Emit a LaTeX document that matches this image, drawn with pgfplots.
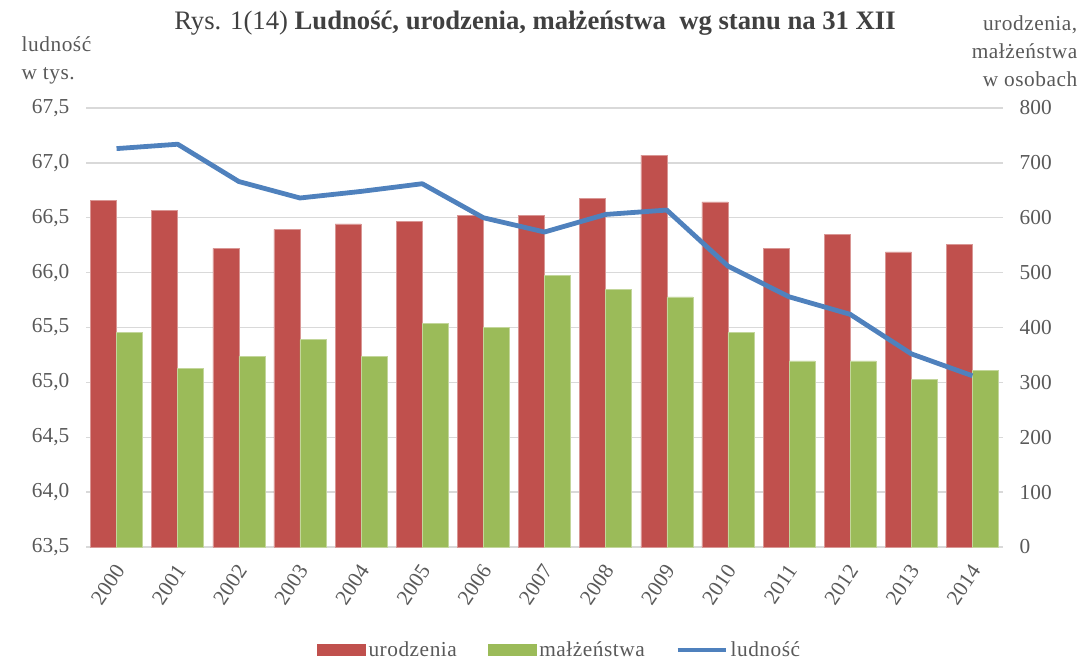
\documentclass[border=0pt]{standalone}
\usepackage{pgfplots}
\pgfplotsset{compat=1.18}
\usepackage{fontspec}
\setmainfont{Liberation Serif}
\newfontfamily\spacedfont[LetterSpace=2.5]{Liberation Serif}
\definecolor{barred}{HTML}{C0504D}
\definecolor{bargreen}{HTML}{9BBB59}
\definecolor{lineblue}{HTML}{4F81BD}
\definecolor{gridgray}{HTML}{D9D9D9}
\definecolor{txtgray}{HTML}{595959}
\definecolor{titlegray}{HTML}{404040}
\newcommand{\tfont}{\fontsize{16}{19}\selectfont}
\begin{document}
\begin{tikzpicture}
\begin{axis}[
  at={(0,0)}, anchor=south west,
  scale only axis, width=687.75pt, height=329.25pt,
  xmin=-0.5, xmax=14.5, ymin=0, ymax=800,
  axis y line*=right, axis x line*=bottom,
  axis line style={draw=none},
  ytick={0,100,...,800},
  ymajorgrids, grid style={gridgray, line width=1.1pt},
  major tick length=0pt,
  xtick={0,...,14},
  xticklabels={2000,2001,2002,2003,2004,2005,2006,2007,2008,2009,2010,2011,2012,2013,2014},
  /pgf/number format/assume math mode=true,
  tick label style={font=\tfont, text=txtgray},
  yticklabel style={anchor=west, xshift=9pt},
  xticklabel style={xshift=3pt, yshift=-14pt, rotate=56, anchor=east, inner sep=1pt},
  ybar=0pt, bar width=19.5pt,
  clip=false,
]
\addplot[fill=barred, draw=barred!60!white, line width=0.4pt] coordinates {(0,632) (1,613) (2,544) (3,579) (4,589) (5,593) (6,605) (7,605) (8,635) (9,714) (10,629) (11,544) (12,570) (13,538) (14,551)};
\addplot[fill=bargreen, draw=bargreen!60!white, line width=0.4pt] coordinates {(0,391) (1,326) (2,348) (3,378) (4,348) (5,407) (6,400) (7,495) (8,469) (9,456) (10,391) (11,339) (12,339) (13,306) (14,322)};
\end{axis}
\begin{axis}[
  at={(0,0)}, anchor=south west,
  scale only axis, width=687.75pt, height=329.25pt,
  xmin=-0.5, xmax=14.5, ymin=63.5, ymax=67.5,
  axis y line*=left, axis x line*=bottom,
  axis line style={draw=none},
  ytick={63.5,64,...,67.5},
  xtick=\empty,
  major tick length=0pt,
  /pgf/number format/.cd, fixed, fixed zerofill, precision=1, use comma, assume math mode=true,
  /pgfplots/.cd,
  tick label style={font=\tfont, text=txtgray},
  yticklabel style={anchor=east, xshift=-9pt},
  clip=false,
  legend style={at={(0.517,-0.2346)}, anchor=center, draw=none, fill=none,
    font=\spacedfont\tfont, text=txtgray, legend columns=3,
    nodes={inner sep=2.2pt},
    /tikz/every even column/.append style={column sep=21pt},
    /tikz/every odd column/.append style={column sep=0pt}},
]
\addlegendimage{legend image code/.code={\fill[barred] (0pt,-4.1pt) rectangle (36pt,4.1pt);}}
\addlegendentry{urodzenia}
\addlegendimage{legend image code/.code={\fill[bargreen] (0pt,-4.1pt) rectangle (36pt,4.1pt);}}
\addlegendentry{małżeństwa}
\addplot[lineblue, line width=3.6pt, line join=round, mark=none,
  legend image code/.code={\draw[lineblue, line width=3pt] (0pt,0pt) -- (36pt,0pt);}]
  coordinates {(0,67.13) (1,67.17) (2,66.83) (3,66.68) (4,66.74) (5,66.81) (6,66.50) (7,66.37) (8,66.53) (9,66.57) (10,66.06) (11,65.78) (12,65.62) (13,65.26) (14,65.06)};
\addlegendentry{ludność}
\end{axis}
\node[font=\fontsize{20}{24}\selectfont, text=titlegray] at (336.75pt,392.5pt)
  {Rys. 1(14) \textbf{Ludność, urodzenia, małżeństwa\ \ wg stanu na 31 XII}};
\node[anchor=west, align=left, font=\spacedfont\fontsize{16}{21}\selectfont, text=txtgray] at (-51.75pt,365pt)
  {ludność\\w tys.};
\node[anchor=east, align=right, font=\spacedfont\fontsize{16}{21}\selectfont, text=txtgray] at (747pt,372pt)
  {urodzenia,\\małżeństwa\\w osobach};
\pgfresetboundingbox
\useasboundingbox (-64.5pt,-84.75pt) rectangle (751.5pt,410.25pt);
\end{tikzpicture}
\end{document}
